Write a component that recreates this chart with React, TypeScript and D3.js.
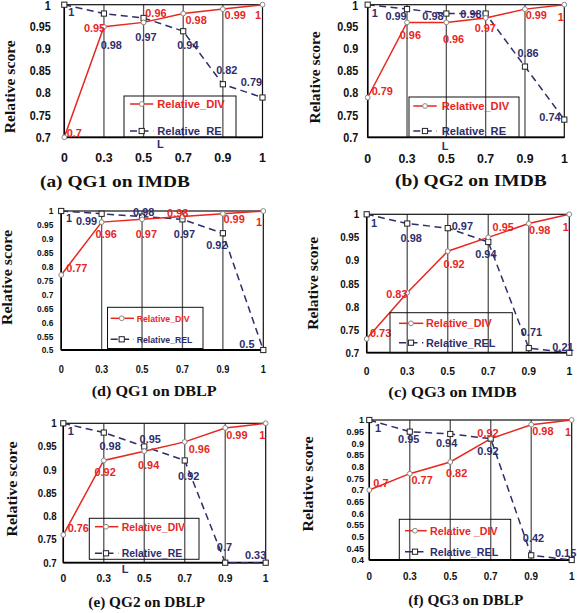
import React from "react";
import * as d3 from "d3";

// ---------- data ----------
const xLabels = ["0", "0.3", "0.5", "0.7", "0.9", "1"];

const divQG1IMDB = [0.7, 0.95, 0.96, 0.98, 0.99, 1];
const relQG1IMDB = [1, 0.98, 0.97, 0.94, 0.82, 0.79];
const divQG2IMDB = [0.79, 0.96, 0.96, 0.97, 0.99, 1];
const relQG2IMDB = [1, 0.99, 0.98, 0.98, 0.86, 0.74];
const divQG1DBLP = [0.77, 0.96, 0.97, 0.98, 0.99, 1];
const relQG1DBLP = [1, 0.99, 0.98, 0.97, 0.92, 0.5];
const divQG3IMDB = [0.73, 0.83, 0.92, 0.95, 0.98, 1];
const relQG3IMDB = [1, 0.98, 0.97, 0.94, 0.71, 0.21];
const divQG2DBLP = [0.76, 0.92, 0.94, 0.96, 0.99, 1];
const relQG2DBLP = [1, 0.98, 0.95, 0.92, 0.7, 0.33];
const divQG3DBLP = [0.7, 0.77, 0.82, 0.92, 0.98, 1];
const relQG3DBLP = [1, 0.95, 0.94, 0.92, 0.42, 0.15];

const yTicks07 = [0.7, 0.75, 0.8, 0.85, 0.9, 0.95, 1];
const yTicks05 = [0.5, 0.55, 0.6, 0.65, 0.7, 0.75, 0.8, 0.85, 0.9, 0.95, 1];
const yTicks04 = [0.4, 0.45, 0.5, 0.55, 0.6, 0.65, 0.7, 0.75, 0.8, 0.85, 0.9, 0.95, 1];

const captions = [
  "(a) QG1 on IMDB",
  "(b) QG2 on IMDB",
  "(d) QG1 on DBLP",
  "(c) QG3 on IMDB",
  "(e) QG2 on DBLP",
  "(f) QG3 on DBLP",
];
const legendRE = ["Relative_DIV", "Relative_RE"];
const legendREL = ["Relative_DIV", "Relative_REL"];
const legendREL2 = ["Relative _DIV", "Relative_REL"];
const yTitle = "Relative score";
const xTitle = "L";

// ---------- label placement (pixel offsets from point) ----------
const divOffA = [[2.4, -0.6], [-20, 4.9], [1.7, -5.7], [2.3, 10.5], [1.7, 10.2], [-7.4, 14.6]];
const relOffA = [[4, 11], [-3.3, 35.8], [-8.3, 22.8], [-6, 18.1], [-6.7, -10.3], [-21.7, -11.5]];
const divOffB = [[4, -2.5], [-7.3, 16.9], [-3.4, 20.3], [-11, 13.8], [0.7, 10.2], [-6.6, 16]];
const relOffB = [[4, 12], [-21.6, 10.9], [-24, 6.5], [-25.3, 4.8], [-7.6, -9.3], [-25, 1.1]];
const divOffD = [[5, -3.3], [-6, 15.6], [-6.3, 18.4], [-15.4, 0.1], [0.6, 9.5], [-7.3, 15]];
const relOffD = [[4.7, 10.7], [-25.7, 11.2], [-9, -0.6], [-8.7, 18.4], [-16.7, 15.8], [-24, -1.7]];
const divOffC = [[3.3, -2.1], [-21, 5.6], [-4.3, 16.5], [4.3, -6.4], [0.3, 10.8], [-6.6, 16.7]];
const relOffC = [[4.3, 12.4], [-6.6, 18.8], [4, 1.9], [-13, 16.3], [-8, -12.1], [-17, -2]];
const divOffE = [[4.4, -3.1], [-9.3, 15.2], [-6.3, 17.8], [4, 10.8], [1, 11], [-6.4, 15.7]];
const relOffE = [[4.4, 11.7], [-4.3, 17.4], [-4.7, -3.8], [-6.7, 19.5], [-8.4, -12], [-20.7, -3.7]];
const divOffF = [[4, -2.7], [1.7, 10.3], [-4.3, 15.3], [-13.4, -2], [1, 10.3], [-6.7, 15.7]];
const relOffF = [[5.7, 11.7], [-11.7, 11.6], [-14.3, 13.3], [-13.4, 16.3], [-8.4, -13.6], [-16.7, -3.3]];

const RED = "#e8261e";
const NAVY = "#2e2d6c";
const SANS = "'Liberation Sans', Arial, sans-serif";
const SERIF = "'Liberation Serif', 'Times New Roman', serif";

type Layout = {
  left: number; right: number; top: number; bottom: number;
  tickFs: number; tickSx: number; yTickRight: number;
  xTickBase: number; xTickFs: number; xTickSx: number;
  leg: { x0: number; y0: number; x1: number; y1: number; r1: number; r2: number; lx0: number; lx1: number; mx: number; tx: number; fs: number; sx: number };
  cap: { cx: number; base: number; len: number; fs: number };
  ylab: { x: number; cy: number; len: number };
  L?: [number, number];
};

const panels: { div: number[]; rel: number[]; yTicks: number[]; caption: string; legend: string[]; divOff: number[][]; relOff: number[][]; lay: Layout }[] = [
  {
    div: divQG1IMDB, rel: relQG1IMDB, yTicks: yTicks07, caption: captions[0], legend: legendRE, divOff: divOffA, relOff: relOffA,
    lay: {
      left: 64.3, right: 262.5, top: 4.7, bottom: 137.3, tickFs: 12, tickSx: 0.9, yTickRight: 50.7,
      xTickBase: 161.5, xTickFs: 13, xTickSx: 0.95,
      leg: { x0: 124, y0: 96, x1: 236, y1: 137.3, r1: 104, r2: 131, lx0: 130, lx1: 153.3, mx: 141.7, tx: 157.3, fs: 11.5, sx: 0.97 },
      cap: { cx: 115, base: 186.7, len: 150, fs: 16 }, ylab: { x: 15, cy: 86.7, len: 93 }, L: [157, 148],
    },
  },
  {
    div: divQG2IMDB, rel: relQG2IMDB, yTicks: yTicks07, caption: captions[1], legend: legendRE, divOff: divOffB, relOff: relOffB,
    lay: {
      left: 367.7, right: 564.3, top: 4.7, bottom: 137.3, tickFs: 12, tickSx: 0.9, yTickRight: 358.3,
      xTickBase: 162.5, xTickFs: 13, xTickSx: 0.95,
      leg: { x0: 409, y0: 97, x1: 519, y1: 137.3, r1: 106, r2: 131, lx0: 413.3, lx1: 436.7, mx: 425, tx: 441.7, fs: 11.5, sx: 0.97 },
      cap: { cx: 470.8, base: 186, len: 151.7, fs: 16 }, ylab: { x: 320, cy: 77.5, len: 92 }, L: [441.7, 150],
    },
  },
  {
    div: divQG1DBLP, rel: relQG1DBLP, yTicks: yTicks05, caption: captions[2], legend: legendREL, divOff: divOffD, relOff: relOffD,
    lay: {
      left: 61.2, right: 263.3, top: 211, bottom: 350, tickFs: 9.5, tickSx: 0.88, yTickRight: 53.3,
      xTickBase: 372.5, xTickFs: 10.5, xTickSx: 0.88,
      leg: { x0: 107.5, y0: 307.3, x1: 203, y1: 348.5, r1: 318.3, r2: 339.3, lx0: 110.7, lx1: 134, mx: 121.7, tx: 136.7, fs: 9.7, sx: 0.9 },
      cap: { cx: 154.2, base: 396, len: 125, fs: 14 }, ylab: { x: 11.7, cy: 277.5, len: 95 },
    },
  },
  {
    div: divQG3IMDB, rel: relQG3IMDB, yTicks: yTicks07, caption: captions[3], legend: legendREL, divOff: divOffC, relOff: relOffC,
    lay: {
      left: 366.7, right: 569.3, top: 214.3, bottom: 352.7, tickFs: 11.2, tickSx: 0.88, yTickRight: 359.3,
      xTickBase: 375, xTickFs: 11.5, xTickSx: 0.9,
      leg: { x0: 390, y0: 312.7, x1: 512.3, y1: 352.7, r1: 323.3, r2: 342.7, lx0: 399, lx1: 423.3, mx: 411, tx: 426, fs: 11.2, sx: 0.97 },
      cap: { cx: 452.5, base: 396.7, len: 128.3, fs: 14 }, ylab: { x: 318.3, cy: 283.3, len: 93 },
    },
  },
  {
    div: divQG2DBLP, rel: relQG2DBLP, yTicks: yTicks07, caption: captions[4], legend: legendRE, divOff: divOffE, relOff: relOffE,
    lay: {
      left: 63.3, right: 265.7, top: 423.3, bottom: 562.7, tickFs: 11, tickSx: 0.88, yTickRight: 56.7,
      xTickBase: 582, xTickFs: 11.5, xTickSx: 0.9,
      leg: { x0: 89.3, y0: 518.3, x1: 199, y1: 559.3, r1: 526.7, r2: 553.3, lx0: 95, lx1: 118.3, mx: 106, tx: 121.7, fs: 10.8, sx: 0.97 },
      cap: { cx: 146.7, base: 606.7, len: 116.7, fs: 14 }, ylab: { x: 16.7, cy: 489, len: 95 }, L: [121.7, 573.3],
    },
  },
  {
    div: divQG3DBLP, rel: relQG3DBLP, yTicks: yTicks04, caption: captions[5], legend: legendREL2, divOff: divOffF, relOff: relOffF,
    lay: {
      left: 369.3, right: 571.7, top: 420, bottom: 560, tickFs: 9.5, tickSx: 0.95, yTickRight: 364,
      xTickBase: 580, xTickFs: 11, xTickSx: 0.9,
      leg: { x0: 399.3, y0: 519.3, x1: 510.7, y1: 560, r1: 530.7, r2: 551.7, lx0: 405, lx1: 426.7, mx: 415, tx: 430, fs: 11, sx: 0.97 },
      cap: { cx: 465.8, base: 605, len: 115, fs: 14 }, ylab: { x: 313.3, cy: 484, len: 95 },
    },
  },
];

function STxt(props: { x: number; y: number; sx?: number; fs: number; anchor?: string; fill?: string; dy?: string; family?: string; children: React.ReactNode }) {
  const { x, y, sx = 1, fs, anchor = "start", fill = "#111", dy, family = SANS } = props;
  return (
    <text transform={`translate(${x},${y}) scale(${sx},1)`} fontSize={fs} fontWeight="bold" fontFamily={family}
      textAnchor={anchor} fill={fill} dy={dy}>
      {props.children}
    </text>
  );
}

function Panel({ p }: { p: (typeof panels)[number] }) {
  const L = p.lay;
  const yMin = p.yTicks[0];
  const x = d3.scalePoint<string>().domain(xLabels).range([L.left, L.right]);
  const y = d3.scaleLinear().domain([yMin, 1]).range([L.bottom, L.top]);
  const px = (i: number) => x(xLabels[i]) as number;
  const py = (v: number) => y(Math.max(v, yMin));
  const line = d3.line<number>().x((_, i) => px(i)).y((v) => py(v));
  const fmt = (v: number) => String(+v.toFixed(2));
  const leg = L.leg;
  return (
    <g>
      {xLabels.slice(1, -1).map((t) => (
        <line key={t} x1={x(t)} x2={x(t)} y1={L.top} y2={L.bottom} stroke="#555" strokeWidth={1.3} />
      ))}
      <rect x={L.left} y={L.top} width={L.right - L.left} height={L.bottom - L.top} fill="none" stroke="#111" strokeWidth={1.2} />
      <line x1={L.left} x2={L.right} y1={L.bottom} y2={L.bottom} stroke="#000" strokeWidth={1.8} />
      <line x1={L.left} x2={L.left} y1={L.top} y2={L.bottom} stroke="#000" strokeWidth={1.5} />
      {/* y ticks */}
      {p.yTicks.map((t) => (
        <STxt key={t} x={L.yTickRight} y={Math.max(y(t), 5.2)} sx={L.tickSx} fs={L.tickFs} anchor="end" dy="0.36em">{fmt(t)}</STxt>
      ))}
      {xLabels.map((t) => (
        <STxt key={t} x={x(t) as number} y={L.xTickBase} sx={L.xTickSx} fs={L.xTickFs} anchor="middle">{t}</STxt>
      ))}
      {/* lines */}
      <path d={line(p.rel) || ""} fill="none" stroke={NAVY} strokeWidth={1.5} strokeDasharray="7,4.5" />
      <path d={line(p.div) || ""} fill="none" stroke={RED} strokeWidth={1.5} />
      {p.rel.map((v, i) => (
        <rect key={"rs" + i} x={px(i) - 2.6} y={py(v) - 2.6} width={5.2} height={5.2} fill="#fff" stroke="#222" strokeWidth={1} />
      ))}
      {p.div.map((v, i) => (
        <circle key={"dc" + i} cx={px(i)} cy={py(v)} r={2.4} fill="#fff" stroke="#888" strokeWidth={1} />
      ))}
      {/* data labels */}
      {p.rel.map((v, i) => (
        <STxt key={"rl" + i} x={px(i) + p.relOff[i][0]} y={py(v) + p.relOff[i][1]} sx={0.95} fs={11.5} fill={NAVY}>{fmt(v)}</STxt>
      ))}
      {p.div.map((v, i) => (
        <STxt key={"dl" + i} x={px(i) + p.divOff[i][0]} y={py(v) + p.divOff[i][1]} sx={0.95} fs={11.5} fill={RED}>{fmt(v)}</STxt>
      ))}
      {/* legend */}
      <rect x={leg.x0} y={leg.y0} width={leg.x1 - leg.x0} height={leg.y1 - leg.y0} fill="none" stroke="#111" strokeWidth={1} />
      <line x1={leg.lx0} x2={leg.lx1} y1={leg.r1} y2={leg.r1} stroke={RED} strokeWidth={1.5} />
      <circle cx={leg.mx} cy={leg.r1} r={2.4} fill="#fff" stroke="#888" strokeWidth={1} />
      <STxt x={leg.tx} y={leg.r1} sx={leg.sx} fs={leg.fs} fill={RED} dy="0.36em">{p.legend[0]}</STxt>
      <line x1={leg.lx0} x2={leg.lx1} y1={leg.r2} y2={leg.r2} stroke={NAVY} strokeWidth={1.5} strokeDasharray="7,4.5" />
      <rect x={leg.mx - 2.6} y={leg.r2 - 2.6} width={5.2} height={5.2} fill="#fff" stroke="#222" strokeWidth={1} />
      <STxt x={leg.tx} y={leg.r2} sx={leg.sx} fs={leg.fs} fill={NAVY} dy="0.36em">{p.legend[1]}</STxt>
      {L.L && <STxt x={L.L[0]} y={L.L[1]} fs={11} fill={NAVY}>{xTitle}</STxt>}
      {/* titles */}
      <text transform={`translate(${L.ylab.x},${L.ylab.cy}) rotate(-90)`} textAnchor="middle" fontFamily={SERIF}
        fontWeight="bold" fontSize={15} fill="#111" textLength={L.ylab.len} lengthAdjust="spacingAndGlyphs">{yTitle}</text>
      <text x={L.cap.cx - L.cap.len / 2} y={L.cap.base} fontFamily={SERIF} fontWeight="bold" fontSize={L.cap.fs}
        fill="#111" textLength={L.cap.len} lengthAdjust="spacingAndGlyphs">{p.caption}</text>
    </g>
  );
}

export default function App() {
  return (
    <svg width={577} height={613} style={{ position: "absolute", left: 0, top: 0, background: "#fff" }}>
      <rect width={577} height={613} fill="#fff" />
      {panels.map((p, i) => <Panel key={i} p={p} />)}
    </svg>
  );
}
